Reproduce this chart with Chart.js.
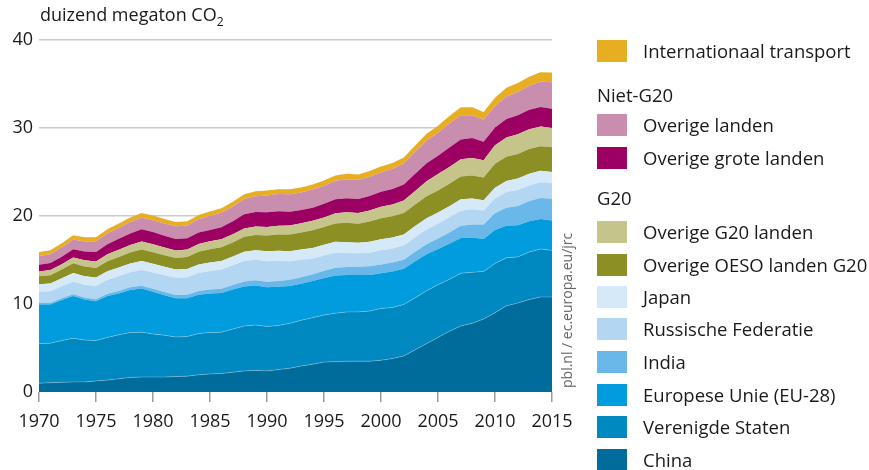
<!DOCTYPE html>
<html>
<head>
<meta charset="utf-8">
<script src="https://cdn.jsdelivr.net/npm/chart.js@4.4.1/dist/chart.umd.min.js"></script>
<style>
  body { margin: 0; background: #fff; font-family: 'Open Sans', sans-serif; color: #1a1a1a; }
  #wrap { position: relative; width: 869px; height: 470px; overflow: hidden; }
  #chart { position: absolute; left: 0; top: 0; }
  #ytitle { position: absolute; left: 40px; top: 2px; font-size: 18px; white-space: nowrap; }
  #ytitle sub { font-size: 12px; vertical-align: -5px; }
  #source { position: absolute; left: 557px; top: 388px; font-size: 14px; line-height: 20px; color: #666;
            white-space: nowrap; transform: rotate(-90deg); transform-origin: left top; }
  .leg { position: absolute; left: 597px; font-size: 18.5px; line-height: 22px; white-space: nowrap; }
  .leg span.sw { display: inline-block; width: 30px; height: 22px; vertical-align: top; margin-right: 16px; }
</style>
</head>
<body>
<div id="wrap">
  <canvas id="chart" width="869" height="470"></canvas>
  <div id="ytitle">duizend megaton CO<sub>2</sub></div>
  <div id="source">pbl.nl / ec.europa.eu/jrc</div>
  <div id="legend"></div>
</div>
<script>
// jaren
var years = [1970,1971,1972,1973,1974,1975,1976,1977,1978,1979,
             1980,1981,1982,1983,1984,1985,1986,1987,1988,1989,
             1990,1991,1992,1993,1994,1995,1996,1997,1998,1999,
             2000,2001,2002,2003,2004,2005,2006,2007,2008,2009,
             2010,2011,2012,2013,2014,2015];

// duizend megaton CO2 per reeks (van onder naar boven)
var china = [1.0,1.05,1.1,1.15,1.15,1.25,1.35,1.5,1.65,1.7,
             1.7,1.7,1.75,1.8,1.95,2.05,2.1,2.25,2.4,2.45,
             2.4,2.55,2.7,2.95,3.15,3.4,3.45,3.5,3.5,3.5,
             3.6,3.8,4.1,4.8,5.5,6.2,6.9,7.5,7.8,8.3,
             9.0,9.8,10.1,10.5,10.8,10.8];
var verenigdeStaten = [4.5,4.5,4.75,4.95,4.75,4.6,4.85,5.0,5.1,5.1,
             4.9,4.75,4.5,4.5,4.7,4.7,4.7,4.9,5.1,5.15,
             5.05,5.0,5.1,5.2,5.3,5.35,5.5,5.6,5.6,5.7,
             5.9,5.8,5.85,5.9,6.0,6.0,5.9,6.0,5.8,5.4,
             5.6,5.45,5.25,5.4,5.45,5.3];
var eu28 = [4.45,4.4,4.6,4.8,4.6,4.45,4.7,4.7,4.85,4.95,
             4.8,4.55,4.4,4.35,4.4,4.45,4.45,4.5,4.5,4.5,
             4.45,4.4,4.25,4.15,4.15,4.2,4.3,4.2,4.2,4.1,
             4.0,4.1,4.05,4.15,4.15,4.05,4.05,4.0,3.95,3.7,
             3.8,3.65,3.6,3.5,3.4,3.4];
var india = [0.2,0.2,0.21,0.22,0.23,0.25,0.27,0.29,0.3,0.32,
             0.33,0.36,0.38,0.4,0.42,0.45,0.48,0.51,0.55,0.59,
             0.62,0.66,0.7,0.73,0.77,0.82,0.87,0.9,0.92,0.98,
             1.0,1.02,1.04,1.08,1.14,1.2,1.28,1.38,1.48,1.63,
             1.9,2.05,2.2,2.3,2.4,2.45];
var rusland = [1.25,1.3,1.35,1.4,1.45,1.5,1.58,1.65,1.72,1.8,
             1.85,1.9,1.95,2.0,2.05,2.1,2.2,2.25,2.35,2.35,
             2.35,2.3,2.1,2.0,1.8,1.75,1.7,1.6,1.55,1.55,
             1.6,1.6,1.6,1.65,1.67,1.68,1.72,1.72,1.75,1.6,
             1.7,1.78,1.8,1.78,1.78,1.78];
var japan = [0.85,0.88,0.92,1.0,0.98,0.95,0.97,1.0,0.98,1.02,
             1.0,0.97,0.95,0.93,0.98,0.97,0.97,0.98,1.04,1.06,
             1.12,1.14,1.15,1.15,1.2,1.22,1.24,1.23,1.2,1.24,
             1.25,1.24,1.26,1.27,1.28,1.28,1.27,1.3,1.22,1.15,
             1.2,1.25,1.3,1.33,1.3,1.27];
var overigeOeso = [0.9,0.95,1.0,1.1,1.1,1.1,1.15,1.2,1.25,1.3,
             1.3,1.3,1.3,1.35,1.45,1.5,1.55,1.6,1.7,1.75,
             1.8,1.85,1.9,1.95,2.0,2.0,2.1,2.2,2.15,2.3,
             2.4,2.4,2.45,2.45,2.5,2.5,2.55,2.6,2.6,2.6,
             2.75,2.75,2.8,2.8,2.8,2.8];
var overigeG20 = [0.55,0.57,0.6,0.65,0.7,0.72,0.78,0.82,0.86,0.9,
             0.9,0.88,0.86,0.85,0.88,0.9,0.92,0.95,0.95,0.95,
             0.95,1.0,1.02,1.05,1.08,1.1,1.15,1.2,1.22,1.25,
             1.3,1.35,1.42,1.55,1.7,1.85,1.9,1.95,2.0,1.95,
             2.1,2.2,2.25,2.25,2.25,2.2];
var overigeGrote = [0.75,0.8,0.85,0.95,1.0,1.1,1.15,1.25,1.3,1.4,
             1.4,1.35,1.3,1.3,1.3,1.3,1.35,1.45,1.6,1.65,
             1.7,1.65,1.55,1.5,1.5,1.55,1.6,1.6,1.6,1.65,
             1.7,1.75,1.8,1.95,2.05,2.1,2.2,2.25,2.25,2.1,
             2.0,2.1,2.15,2.2,2.2,2.2];
var overigeLanden = [1.0,1.0,1.05,1.1,1.15,1.2,1.2,1.25,1.3,1.3,
             1.35,1.4,1.45,1.45,1.5,1.6,1.65,1.7,1.75,1.8,
             1.9,1.95,2.0,2.0,2.05,2.05,2.1,2.15,2.15,2.2,
             2.2,2.3,2.4,2.5,2.6,2.6,2.75,2.75,2.6,2.5,
             2.45,2.55,2.65,2.75,2.9,3.0];
var internationaal = [0.45,0.45,0.47,0.5,0.48,0.47,0.5,0.5,0.52,0.55,
             0.52,0.5,0.48,0.47,0.47,0.48,0.5,0.52,0.54,0.55,
             0.55,0.55,0.56,0.56,0.57,0.58,0.6,0.62,0.63,0.65,
             0.67,0.66,0.67,0.7,0.75,0.8,0.85,0.9,0.92,0.88,
             0.95,1.0,1.0,1.02,1.05,1.1];

var seriesNames = ['China','Verenigde Staten','Europese Unie (EU-28)','India','Russische Federatie','Japan',
                   'Overige OESO landen G20','Overige G20 landen','Overige grote landen','Overige landen',
                   'Internationaal transport'];
var seriesData = [china, verenigdeStaten, eu28, india, rusland, japan,
                  overigeOeso, overigeG20, overigeGrote, overigeLanden, internationaal];
var seriesColors = ['#006c9b','#0088c0','#009cdd','#69b8e9','#b3d7f2','#d6e9f8',
                    '#8c8f23','#c5c48a','#9b0062','#c98dad','#e8ae21'];
var yTicks = [0,10,20,30,40];

var datasets = seriesData.map(function(d, i){
  return {
    label: seriesNames[i],
    data: d,
    backgroundColor: seriesColors[i],
    borderColor: i < 2 ? 'rgba(255,255,255,0.25)' : seriesColors[i],
    borderWidth: i < 2 ? 1 : 0,
    fill: i === 0 ? 'origin' : '-1',
    pointRadius: 0,
    tension: 0
  };
});

var ctx = document.getElementById('chart').getContext('2d');
window.chart = new Chart(ctx, {
  type: 'line',
  data: { labels: years, datasets: datasets },
  options: {
    responsive: false,
    animation: false,
    layout: { padding: { left: 0, top: 40, right: 317, bottom: 0 } },
    plugins: { legend: { display: false }, tooltip: { enabled: false } },
    scales: {
      x: {
        offset: false,
        grid: { drawOnChartArea: false, drawTicks: true, tickLength: 10, color: '#9a9a9a', lineWidth: 1.5 },
        border: { display: false },
        ticks: {
          autoSkip: false, maxRotation: 0, padding: 9,
          color: '#1a1a1a', font: { family: 'Open Sans', size: 18 },
          callback: function(v, i){ var y = years[i]; return y % 5 === 0 ? String(y) : null; }
        },
        afterFit: function(s){ s.height = 78; }
      },
      y: {
        stacked: true, min: 0, max: 40,
        afterBuildTicks: function(s){ s.ticks = yTicks.map(function(v){ return { value: v }; }); },
        grid: { drawTicks: false, color: function(c){ return c.tick.value === 0 ? 'rgba(0,0,0,0)' : '#cccccc'; }, lineWidth: 1.5 },
        border: { display: false },
        ticks: { padding: 6, color: '#1a1a1a', font: { family: 'Open Sans', size: 18 } },
        afterFit: function(s){ s.width = 39; }
      }
    }
  }
});

// legenda met groepskoppen
var legendRows = [
  { idx: 10, top: 40 },
  { heading: 'Niet-G20', top: 84 },
  { idx: 9, top: 114 },
  { idx: 8, top: 147 },
  { heading: 'G20', top: 187 },
  { idx: 7, top: 221 },
  { idx: 6, top: 254 },
  { idx: 5, top: 286 },
  { idx: 4, top: 318 },
  { idx: 3, top: 351 },
  { idx: 2, top: 384 },
  { idx: 1, top: 416 },
  { idx: 0, top: 449 }
];
var leg = document.getElementById('legend');
legendRows.forEach(function(r){
  var el = document.createElement('div');
  el.className = 'leg';
  el.style.top = r.top + 'px';
  if (r.heading) {
    el.textContent = r.heading;
  } else {
    var sw = document.createElement('span');
    sw.className = 'sw';
    sw.style.background = seriesColors[r.idx];
    el.appendChild(sw);
    el.appendChild(document.createTextNode(seriesNames[r.idx]));
  }
  leg.appendChild(el);
});
</script>
</body>
</html>
